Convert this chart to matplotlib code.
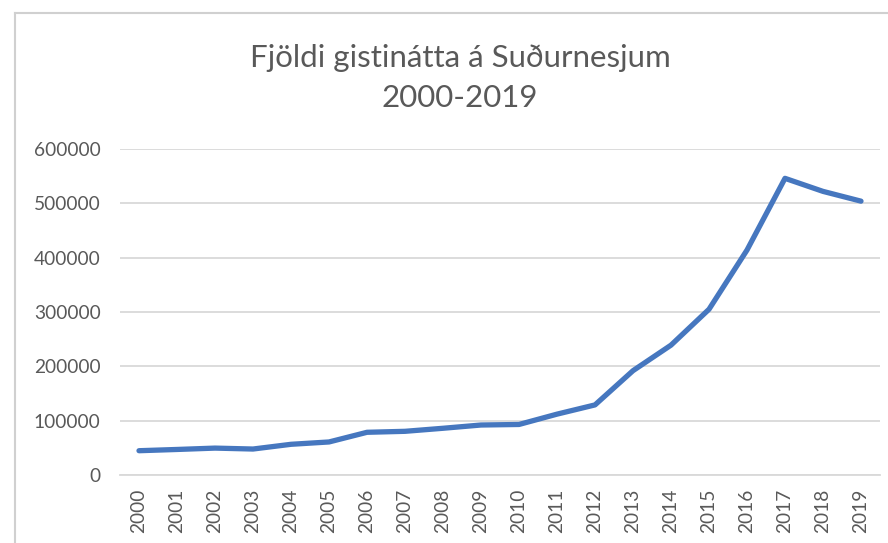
import matplotlib
matplotlib.use("Agg")
import matplotlib.pyplot as plt
from matplotlib.lines import Line2D

years = [str(y) for y in range(2000, 2020)]
values = [44700, 47000, 49500, 47800, 56500, 60800, 78600, 80400, 86000, 92000,
          93000, 112000, 129000, 192000, 239000, 305000, 414000, 546000, 522000, 504000]
yticks = [0, 100000, 200000, 300000, 400000, 500000, 600000]
title = "Fjöldi gistinátta á Suðurnesjum\n2000-2019"

plt.rcParams['font.family'] = ['Lato', 'DejaVu Sans']
W, H = 888, 543
fig = plt.figure(figsize=(W / 100, H / 100), dpi=100)
ax = fig.add_axes([120 / W, 1 - 475 / H, 760 / W, (475 - 149) / H])

x = list(range(len(years)))
ax.plot(x, values, color="#4677BF", lw=3.8, solid_joinstyle="round", solid_capstyle="round", zorder=3)

ax.set_xlim(-0.5, len(years) - 0.5)
ax.set_ylim(0, 600000)
ax.set_yticks(yticks)
ax.set_yticklabels([str(v) for v in yticks])
ax.set_xticks(x)
ax.set_xticklabels(years, rotation=90)
ax.grid(axis="y", color="#d9d9d9", lw=1.3)
ax.set_axisbelow(True)
for s in ["top", "right", "left"]:
    ax.spines[s].set_visible(False)
ax.spines["bottom"].set_color("#d9d9d9")
ax.spines["bottom"].set_linewidth(1.3)
ax.tick_params(axis="both", length=0, labelsize=13.8, colors="#595959")
ax.tick_params(axis="y", pad=14)
ax.tick_params(axis="x", pad=10)

fig.text(460 / W, 1 - 78 / H, title, ha="center", va="center", fontsize=22.5,
         color="#595959", linespacing=1.5)

# screenshot border
fig.add_artist(Line2D([15 / W, 15 / W], [0, 1 - 13 / H], color="#d0d0d0", lw=1.5, transform=fig.transFigure))
fig.add_artist(Line2D([15 / W, 1], [1 - 13 / H, 1 - 13 / H], color="#d0d0d0", lw=1.5, transform=fig.transFigure))

fig.savefig("out.png", dpi=100, facecolor="white")
